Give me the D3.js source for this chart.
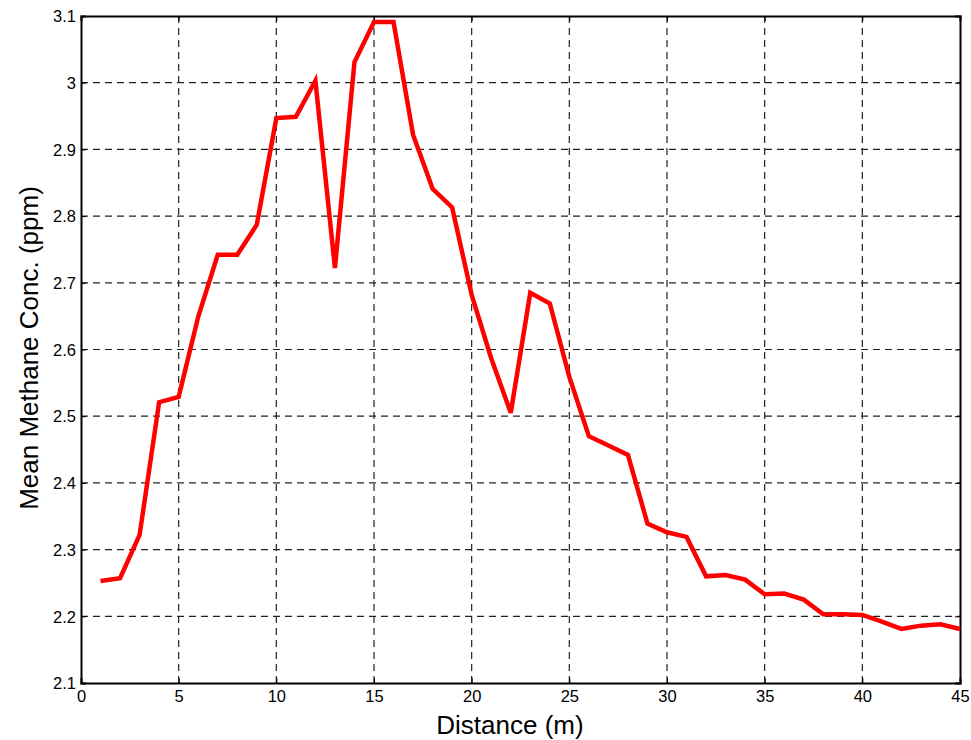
<!DOCTYPE html>
<html><head><meta charset="utf-8">
<script src="https://cdn.jsdelivr.net/npm/d3@7"></script>
<style>body{margin:0;background:#fff}svg{display:block}</style>
</head><body>
<svg id="c" width="971" height="740"></svg>
<script>
const distance = d3.range(1, 46);
const methane = [2.253,2.257,2.322,2.521,2.529,2.649,2.742,2.742,2.787,2.947,
  2.949,3.003,2.722,3.031,3.091,3.091,2.922,2.841,2.813,2.682,
  2.587,2.505,2.685,2.669,2.559,2.470,2.456,2.442,2.339,2.326,
  2.319,2.260,2.262,2.255,2.233,2.234,2.225,2.203,2.203,2.202,
  2.192,2.181,2.186,2.188,2.181];
const xTicks = [0,5,10,15,20,25,30,35,40,45];
const yTicks = [2.1,2.2,2.3,2.4,2.5,2.6,2.7,2.8,2.9,3,3.1];
const xLabel = "Distance (m)";
const yLabel = "Mean Methane Conc. (ppm)";

const svg = d3.select("#c");
const L=81, R=960, T=16, B=683;
const x = d3.scaleLinear().domain([0,45]).range([L,R]);
const y = d3.scaleLinear().domain([2.1,3.1]).range([B,T]);
const font = "Liberation Sans, Arial, sans-serif";

// grid
const g = svg.append("g");
g.selectAll("line.vx").data(xTicks.slice(1,-1)).join("line")
  .attr("x1",d=>x(d)).attr("x2",d=>x(d)).attr("y1",T).attr("y2",B)
  .attr("stroke","#222").attr("stroke-width",1.2).attr("stroke-dasharray","7,5");
g.selectAll("line.hy").data(yTicks.slice(1,-1)).join("line")
  .attr("y1",d=>y(d)).attr("y2",d=>y(d)).attr("x1",L).attr("x2",R)
  .attr("stroke","#222").attr("stroke-width",1.2).attr("stroke-dasharray","7,5");

// axes
const xa = svg.append("g").attr("transform",`translate(0,${B})`)
  .call(d3.axisBottom(x).tickValues(xTicks).tickSize(-5).tickPadding(7).tickFormat(d3.format("d")));
const xa2 = svg.append("g").attr("transform",`translate(0,${T})`)
  .call(d3.axisTop(x).tickValues(xTicks).tickSize(-5).tickFormat(""));
const ya = svg.append("g").attr("transform",`translate(${L},0)`)
  .call(d3.axisLeft(y).tickValues(yTicks).tickSize(-5).tickPadding(5).tickFormat(d=>d3.format("")(+d.toFixed(1))));
const ya2 = svg.append("g").attr("transform",`translate(${R},0)`)
  .call(d3.axisRight(y).tickValues(yTicks).tickSize(-5).tickFormat(""));
[xa,xa2,ya,ya2].forEach(a=>{
  a.select(".domain").attr("stroke","#000").attr("stroke-width",2);
  a.selectAll(".tick line").attr("stroke","#000").attr("stroke-width",1);
  a.selectAll("text").attr("font-family",font).attr("font-size",16.5).attr("fill","#000");
});
ya.selectAll(".tick text").attr("dy","0.35em");

// line
svg.append("path").datum(distance.map((d,i)=>[d,methane[i]]))
  .attr("fill","none").attr("stroke","#ff0000").attr("stroke-width",4.5)
  .attr("stroke-linejoin","miter")
  .attr("d", d3.line().x(d=>x(d[0])).y(d=>y(d[1])));

svg.append("text").attr("x",510).attr("y",734).attr("text-anchor","middle")
  .attr("font-family",font).attr("font-size",26).text(xLabel);
svg.append("text").attr("transform",`translate(38,348) rotate(-90)`).attr("text-anchor","middle")
  .attr("font-family",font).attr("font-size",26).text(yLabel);
</script>
</body></html>
